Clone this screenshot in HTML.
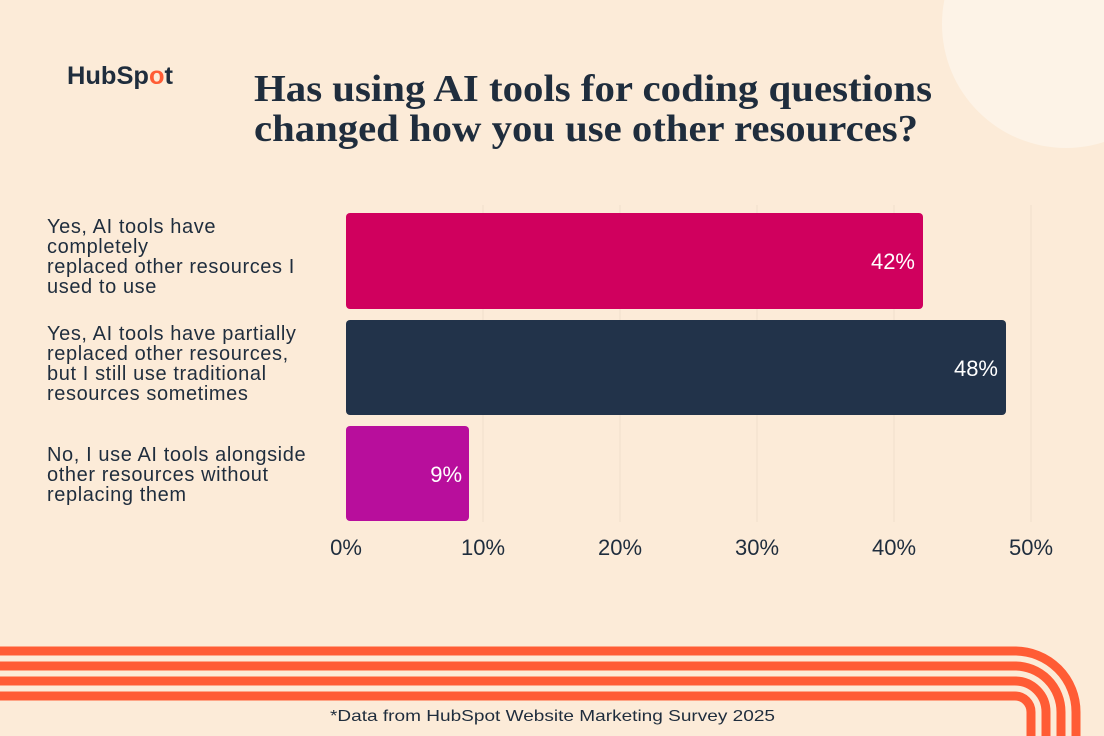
<!DOCTYPE html>
<html><head><meta charset="utf-8"><style>
html,body{margin:0;padding:0;background:#fcebd8;}
svg{display:block;}
</style></head><body>
<svg width="1104" height="736" viewBox="0 0 1104 736" xmlns="http://www.w3.org/2000/svg">
<rect width="1104" height="736" fill="#fcebd8"/>
<circle cx="1066" cy="24" r="124" fill="#fdf3e7"/>
<text x="67" y="84" font-family="Liberation Sans, sans-serif" font-weight="bold" font-size="25" fill="#1f2d3d" textLength="106" lengthAdjust="spacingAndGlyphs">HubSp<tspan fill="#ff5c35">o</tspan>t</text>
<g font-family="Liberation Serif, serif" font-weight="bold" font-size="38" fill="#1f2d3d">
<text x="254" y="101" textLength="678" lengthAdjust="spacingAndGlyphs">Has using AI tools for coding questions</text>
<text x="254" y="141" textLength="664" lengthAdjust="spacingAndGlyphs">changed how you use other resources?</text>
</g>
<g stroke="#efdfcd" stroke-width="1">
<line x1="483" y1="205" x2="483" y2="522"/><line x1="620" y1="205" x2="620" y2="522"/>
<line x1="757" y1="205" x2="757" y2="522"/><line x1="894" y1="205" x2="894" y2="522"/>
<line x1="1031" y1="205" x2="1031" y2="522"/>
</g>
<rect x="346" y="213" width="577" height="96" rx="4" fill="#d0005e"/>
<rect x="346" y="320" width="660" height="95" rx="4" fill="#22334a"/>
<rect x="346" y="426" width="123" height="95" rx="4" fill="#b80e9c"/>
<g font-family="Liberation Sans, sans-serif" font-size="22" fill="#fff" text-anchor="end">
<text x="915" y="269">42%</text><text x="998" y="376">48%</text><text x="462" y="482">9%</text>
</g>
<g font-family="Liberation Sans, sans-serif" font-size="20" fill="#1f2d3d" letter-spacing="0.6">
<text x="47" y="233">Yes, AI tools have</text><text x="47" y="253">completely</text>
<text x="47" y="273">replaced other resources I</text><text x="47" y="293">used to use</text>
<text x="47" y="340">Yes, AI tools have partially</text><text x="47" y="360">replaced other resources,</text>
<text x="47" y="380">but I still use traditional</text><text x="47" y="400">resources sometimes</text>
<text x="47" y="461">No, I use AI tools alongside</text><text x="47" y="481">other resources without</text>
<text x="47" y="501">replacing them</text>
</g>
<g font-family="Liberation Sans, sans-serif" font-size="22" fill="#1f2d3d" text-anchor="middle">
<text x="346" y="555">0%</text><text x="483" y="555">10%</text><text x="620" y="555">20%</text>
<text x="757" y="555">30%</text><text x="894" y="555">40%</text><text x="1031" y="555">50%</text>
</g>
<g fill="none" stroke="#ff5c35" stroke-width="9">
<path d="M0 651 H1015 A61 61 0 0 1 1076 712 V740"/>
<path d="M0 666 H1015 A46 46 0 0 1 1061 712 V740"/>
<path d="M0 681 H1015 A31 31 0 0 1 1046 712 V740"/>
<path d="M0 696 H1015 A16 16 0 0 1 1031 712 V740"/>
</g>
<text x="330" y="721" font-family="Liberation Sans, sans-serif" font-size="16" fill="#1f2d3d" textLength="445" lengthAdjust="spacingAndGlyphs">*Data from HubSpot Website Marketing Survey 2025</text>
</svg>
</body></html>
